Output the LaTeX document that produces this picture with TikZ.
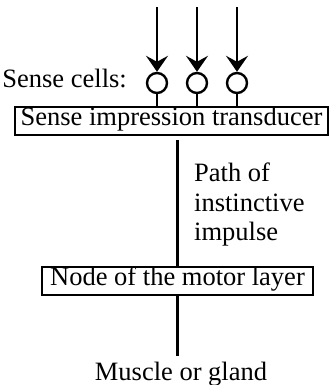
\documentclass[tikz,border=0pt]{standalone}
\usepackage{fontspec}
\setmainfont{Liberation Serif}
\usetikzlibrary{arrows.meta}

\begin{document}
\begin{tikzpicture}[x=0.5pt, y=-0.5pt, line width=1.2pt, font=\fontsize{13.25pt}{14.7pt}\selectfont,
  box_node/.style={draw, rectangle, inner ysep=2.25pt, text height=0.72em, text depth=0.25em},
  cell_node/.style={circle, draw, minimum size=10pt, inner sep=0pt},
  in_arrow/.style={-{Stealth[length=8pt, width=11pt, inset=3pt]}}]
				\useasboundingbox (0,0) rectangle (329,385);
				\node[box_node, inner xsep=2.8pt](sense) at (171.5,121){Sense impression transducer};
				\node[box_node, inner xsep=4.1pt](motor) at (177.5,281){Node of the motor layer};
				\node[anchor=base east, inner sep=0pt](cells) at (128,88){Sense cells:};
				\node[anchor=base, inner sep=0pt](muscle) at (181,380){Muscle or gland};
				\node[anchor=north west, align=left, inner sep=0pt](path) at (193,162){Path of\\instinctive\\impulse};
				\foreach \i/\x in {1/157, 2/197, 3/237}{
					\node[cell_node](cell\i) at (\x,83){};
					\coordinate (in\i) at (\x,7);
					\draw[in_arrow](in\i) -- (cell\i);
					\draw(cell\i.south) -- (cell\i.south |- sense.north);
				}
				\draw[shorten >=2pt](motor.north) -- (motor.north |- sense.south);
				\draw(motor.south) -- ([yshift=2pt]motor.south |- muscle.north);
			\end{tikzpicture}
\end{document}
